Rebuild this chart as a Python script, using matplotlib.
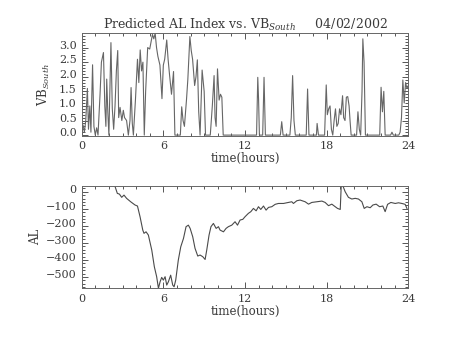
import matplotlib
matplotlib.use('Agg')
import matplotlib.pyplot as plt
import matplotlib.transforms as mtransforms
from matplotlib.ticker import MultipleLocator

# VB_South (top panel)
vb_hours = [
    0.0, 0.1, 0.2, 0.3, 0.42, 0.5, 0.6, 0.68, 0.8, 0.9, 1.0, 1.1, 1.2, 1.35, 1.45,
    1.6, 1.7, 1.78, 1.84, 1.92, 2.0, 2.15, 2.25, 2.35, 2.45, 2.55, 2.65, 2.72, 2.82,
    2.95, 3.06, 3.15, 3.3, 3.43, 3.55, 3.63, 3.72, 3.8, 3.95, 4.1, 4.2, 4.3, 4.4, 4.5,
    4.6, 4.7, 4.85, 5.0, 5.1, 5.2, 5.3, 5.4, 5.5, 5.6, 5.75, 5.9, 6.0, 6.1, 6.25, 6.35,
    6.45, 6.6, 6.75, 6.85, 7.25, 7.35, 7.45, 7.55, 7.7, 7.8, 7.95, 8.05, 8.15, 8.3, 8.4,
    8.5, 8.6, 8.7, 8.85, 9.0, 9.1, 9.45, 9.6, 9.73, 9.8, 9.88, 9.98, 10.1, 10.2, 10.3,
    10.4, 12.85, 12.94, 13.0, 13.06, 13.3, 13.4, 13.5, 14.6, 14.7, 14.8, 15.3, 15.4,
    15.5, 15.6, 15.7, 16.5, 16.6, 16.7, 17.25, 17.3, 17.4, 17.85, 17.97, 18.05, 18.15,
    18.25, 18.35, 18.45, 18.55, 18.65, 18.75, 18.85, 18.95, 19.05, 19.17, 19.25, 19.35,
    19.45, 19.55, 19.65, 19.72, 19.8, 20.2, 20.3, 20.4, 20.5, 20.6, 20.66, 20.75, 20.85,
    21.9, 22.0, 22.1, 22.2, 22.3, 22.7, 22.8, 22.9, 23.3, 23.4, 23.5, 23.6, 23.7, 23.8,
    23.9, 24.0,
]
vb_south = [
    0.1, 0.35, 0.1, 0.5, 1.6, 0.2, 1.0, 0.1, 2.41, 0.3, 0.0, 0.25, 0.0, 1.4, 2.5,
    2.83, 1.0, 0.3, 1.92, 0.8, 0.0, 3.17, 0.9, 0.2, 1.0, 2.2, 2.9, 0.6, 0.95,
    0.5, 0.85, 0.6, 0.5, 0.0, 0.5, 1.63, 0.4, 0.0, 1.2, 2.6, 1.8, 2.92, 2.2, 2.5,
    0.0, 1.5, 3.0, 2.95, 3.2, 3.45, 3.3, 3.49, 3.0, 2.7, 2.4, 1.25, 2.4, 2.6, 3.26, 2.6,
    2.1, 1.4, 2.18, 0.0, 0.0, 0.97, 0.5, 0.3, 1.2, 1.9, 3.38, 2.9, 2.6, 1.7, 2.0,
    2.58, 0.8, 0.0, 2.23, 1.5, 0.0, 0.0, 1.0, 2.04, 0.6, 0.3, 2.27, 1.2, 1.4, 1.3,
    0.0, 0.0, 1.98, 1.2, 0.0, 0.0, 1.98, 0.0, 0.0, 0.46, 0.0, 0.0, 0.6,
    2.04, 0.5, 0.0, 0.0, 1.58, 0.0, 0.0, 0.4, 0.0, 0.0, 1.72, 0.7, 0.9,
    1.0, 0.2, 0.0, 0.5, 0.9, 0.3, 0.4, 0.9, 0.7, 1.35, 0.6, 0.5,
    1.3, 1.32, 1.0, 0.5, 0.0, 0.0, 0.8, 0.2, 0.0, 1.5, 3.3, 2.5, 0.0,
    0.0, 1.64, 0.8, 1.5, 0.0, 0.0, 0.1, 0.0, 0.0, 0.1, 0.6, 1.89, 1.1, 1.8,
    1.6, 1.7,
]

# predicted AL (bottom panel)
al_hours = [
    2.45, 2.62, 2.77, 2.94, 3.11, 3.3, 3.6, 3.92, 4.1, 4.29, 4.49, 4.58, 4.73, 4.9,
    5.15, 5.34, 5.51, 5.64, 5.76, 5.88, 6.0, 6.13, 6.25, 6.37, 6.54, 6.69, 6.79, 6.91,
    7.1, 7.28, 7.48, 7.67, 7.84, 7.97, 8.16, 8.33, 8.53, 8.7, 8.9, 9.07, 9.19, 9.36,
    9.5, 9.68, 9.88, 10.05, 10.17, 10.42, 10.61, 10.78, 11.03, 11.27, 11.45, 11.64,
    11.84, 12.0, 12.25, 12.43, 12.62, 12.82, 12.99, 13.16, 13.36, 13.55, 13.73, 13.97,
    14.22, 14.46, 14.83, 15.07, 15.44, 15.56, 15.81, 16.05, 16.42, 16.67, 16.91, 17.28,
    17.65, 17.89, 18.14, 18.38, 18.63, 18.8, 19.0, 19.07, 19.19, 19.36, 19.6, 19.85,
    20.1, 20.34, 20.59, 20.76, 20.96, 21.2, 21.4, 21.64, 21.89, 22.13, 22.3, 22.48,
    22.72, 23.04, 23.28, 23.53, 23.77, 23.9,
]
al_index = [
    31, -10, -14, -33, -20, -39, -59, -78, -84, -147, -225, -244, -235, -254,
    -342, -440, -498, -566, -528, -502, -518, -498, -547, -528, -489, -547, -557, -518,
    -401, -323, -274, -205, -196, -215, -264, -332, -377, -371, -381, -397, -342, -254,
    -205, -186, -215, -205, -225, -235, -215, -205, -196, -176, -196, -166,
    -162, -147, -127, -117, -98, -112, -88, -104, -84, -108, -92, -88,
    -74, -69, -69, -65, -59, -69, -53, -49, -59, -73, -63, -59,
    -55, -63, -82, -73, -88, -98, -104, 31, 35, 0, -33, -43,
    -39, -43, -59, -98, -88, -94, -78, -73, -88, -84, -117, -74,
    -63, -69, -65, -69, -74, -98,
]

x_ticks = [0, 6, 12, 18, 24]
ink = '#3a3a3a'


def style_axis(fig, ax, ymajor, yminor):
    ax.set_xlim(0, 24)
    ax.set_xticks(x_ticks)
    ax.xaxis.set_minor_locator(MultipleLocator(1))
    ax.yaxis.set_major_locator(MultipleLocator(ymajor))
    ax.yaxis.set_minor_locator(MultipleLocator(yminor))
    ax.tick_params(which='both', direction='in', top=True, right=True,
                   colors=ink, labelsize=8, width=0.6)
    ax.tick_params(which='major', length=4)
    ax.tick_params(which='minor', length=2)
    ax.tick_params(axis='x', pad=4)
    for spine in ax.spines.values():
        spine.set_color('#666666')
        spine.set_linewidth(0.7)
    # IDL puts y labels a little above their ticks
    shift = mtransforms.ScaledTranslation(0, 2.7 / 100, fig.dpi_scale_trans)
    for lab in ax.get_yticklabels():
        lab.set_transform(lab.get_transform() + shift)
    ax.set_xlabel('time(hours)', fontsize=8.5, color=ink, labelpad=0.5)


def main() -> int:
    plt.rcParams['font.family'] = ['DejaVu Serif']
    plt.rcParams['mathtext.fontset'] = 'dejavuserif'

    fig = plt.figure(figsize=(4.53, 3.40), dpi=100)
    ax1 = fig.add_axes([0.1803, 0.6009, 0.7210, 0.3012])
    ax2 = fig.add_axes([0.1803, 0.1520, 0.7210, 0.3018])

    ax1.plot(vb_hours, vb_south, color='#666666', linewidth=0.8)
    ax1.set_ylim(-0.02, 3.49)
    style_axis(fig, ax1, 0.5, 0.1)
    ax1.yaxis.set_major_formatter(lambda v, pos: f'{v:.1f}')
    ax1.set_ylabel('VB$_{South}$', fontsize=8.5, color=ink)
    ax1.yaxis.set_label_coords(-0.091, 0.5)
    ax1.set_title('Predicted AL Index vs. VB$_{South}$     04/02/2002',
                  fontsize=9, color=ink, pad=3)

    ax2.plot(al_hours, al_index, color='#4a4a4a', linewidth=0.8)
    ax2.set_ylim(-566, 35)
    style_axis(fig, ax2, 100, 20)
    ax2.yaxis.set_major_formatter(lambda v, pos: f'{v:.0f}'.replace('-', '\u2212'))
    ax2.set_ylabel('AL', fontsize=8.5, color=ink)
    ax2.yaxis.set_label_coords(-0.1215, 0.5)

    fig.savefig('out.png', dpi=100)
    return 0


if __name__ == '__main__':
    raise SystemExit(main())
